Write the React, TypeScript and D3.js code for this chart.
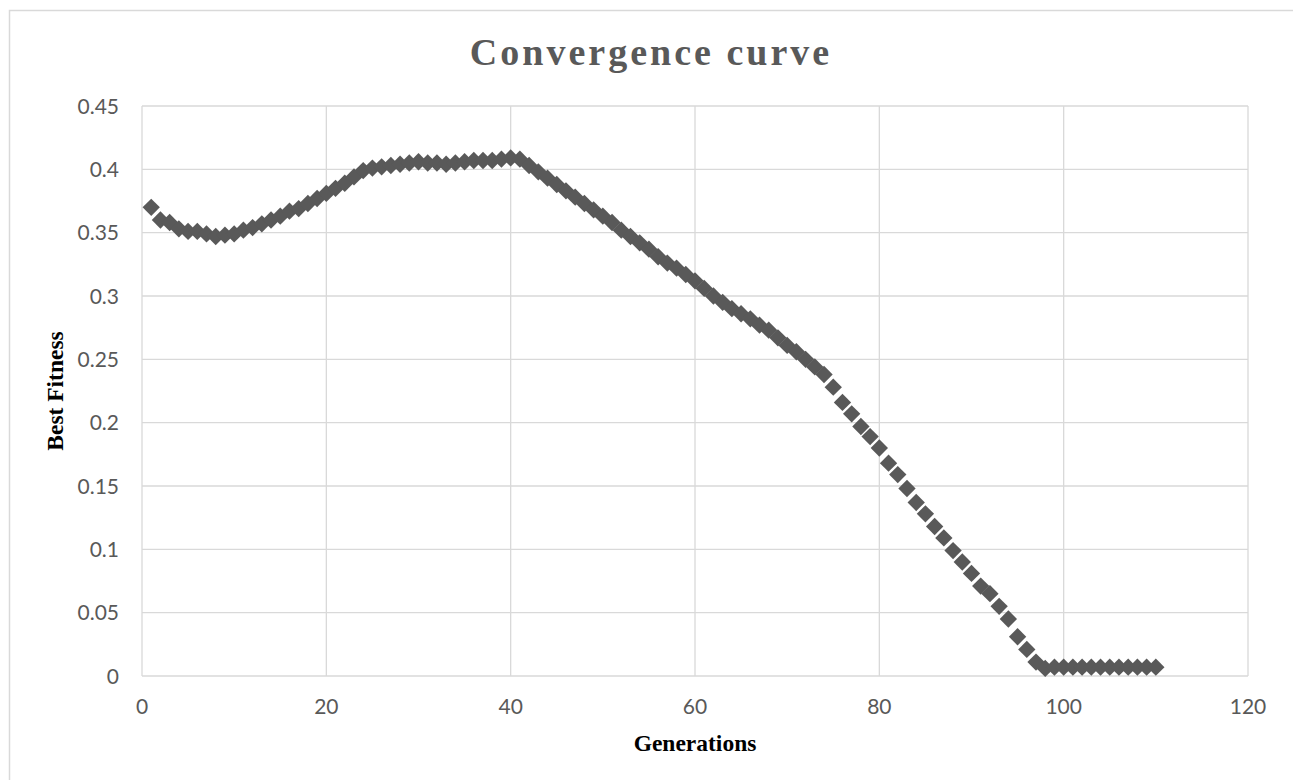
import * as d3 from "d3";
import React, { useEffect, useRef } from "react";

const W = 1293;
const H = 780;

// generation numbers 1..110
const generations = d3.range(1, 111);

// best fitness per generation
const bestFitness = [
  0.370, 0.360, 0.358, 0.353, 0.351, 0.351, 0.349, 0.347, 0.348, 0.349,
  0.352, 0.354, 0.357, 0.360, 0.363, 0.367, 0.369, 0.373, 0.377, 0.381,
  0.385, 0.389, 0.394, 0.399, 0.401, 0.402, 0.403, 0.404, 0.405, 0.406,
  0.405, 0.405, 0.404, 0.405, 0.406, 0.407, 0.407, 0.407, 0.408, 0.409,
  0.408, 0.403, 0.398, 0.393, 0.388, 0.383, 0.378, 0.373, 0.368, 0.363,
  0.358, 0.352, 0.347, 0.342, 0.337, 0.331, 0.326, 0.322, 0.317, 0.312,
  0.306, 0.300, 0.295, 0.290, 0.286, 0.282, 0.277, 0.273, 0.267, 0.261,
  0.256, 0.250, 0.244, 0.238, 0.228, 0.216, 0.207, 0.197, 0.189, 0.180,
  0.168, 0.159, 0.148, 0.137, 0.128, 0.118, 0.109, 0.099, 0.090, 0.081,
  0.071, 0.065, 0.055, 0.045, 0.031, 0.021, 0.011, 0.006, 0.007, 0.007,
  0.007, 0.007, 0.007, 0.007, 0.007, 0.007, 0.007, 0.007, 0.007, 0.007,
];

const xTicks = [0, 20, 40, 60, 80, 100, 120];
const yTicks = [0, 0.05, 0.1, 0.15, 0.2, 0.25, 0.3, 0.35, 0.4, 0.45];

function drawChart(el: SVGSVGElement) {
  const svg = d3.select(el);
  svg.selectAll("*").remove();

  const margin = { top: 106, right: 45, bottom: 104, left: 142 };
  const width = W - margin.left - margin.right;
  const height = H - margin.top - margin.bottom;

  const grid = "#d9d9d9";
  const ink = "#595959";
  const serif = "'Liberation Serif', 'Times New Roman', serif";

  // chart area frame
  svg
    .append("rect")
    .attr("x", 9.5)
    .attr("y", 10.5)
    .attr("width", W)
    .attr("height", H)
    .attr("fill", "#fff")
    .attr("stroke", grid)
    .attr("stroke-width", 1.5);

  const x = d3.scaleLinear().domain([0, 120]).range([0, width]);
  const y = d3.scaleLinear().domain([0, 0.45]).range([height, 0]);

  const g = svg.append("g").attr("transform", `translate(${margin.left},${margin.top})`);

  // gridlines
  g.append("g")
    .selectAll("line")
    .data(yTicks)
    .join("line")
    .attr("x1", 0)
    .attr("x2", width)
    .attr("y1", d => y(d))
    .attr("y2", d => y(d))
    .attr("stroke", grid)
    .attr("stroke-width", 1.3);
  g.append("g")
    .selectAll("line")
    .data(xTicks)
    .join("line")
    .attr("x1", d => x(d))
    .attr("x2", d => x(d))
    .attr("y1", 0)
    .attr("y2", height)
    .attr("stroke", grid)
    .attr("stroke-width", 1.3);

  // tick labels
  const tickFont = "Lato, 'Open Sans', sans-serif";
  g.append("g")
    .selectAll("text")
    .data(yTicks)
    .join("text")
    .attr("x", -23)
    .attr("y", d => y(d))
    .attr("dy", "0.36em")
    .attr("text-anchor", "end")
    .attr("fill", ink)
    .style("font-family", tickFont)
    .style("font-size", "21px")
    .text(d => String(+d.toFixed(2)));
  g.append("g")
    .selectAll("text")
    .data(xTicks)
    .join("text")
    .attr("x", d => x(d))
    .attr("y", height + 38)
    .attr("text-anchor", "middle")
    .attr("fill", ink)
    .style("font-family", tickFont)
    .style("font-size", "21px")
    .text(d => d);

  // markers (square turned 45° = Excel diamond)
  const diamond = d3.symbol().type(d3.symbolSquare).size(150);
  g.append("g")
    .selectAll("path")
    .data(generations)
    .join("path")
    .attr("d", diamond)
    .attr("transform", (d, i) => `translate(${x(d)},${y(bestFitness[i])}) rotate(45)`)
    .attr("fill", ink);

  // titles
  svg
    .append("text")
    .attr("x", 651)
    .attr("y", 65)
    .attr("text-anchor", "middle")
    .attr("fill", ink)
    .style("font-family", serif)
    .style("font-weight", "bold")
    .style("font-size", "38px")
    .style("letter-spacing", "3px")
    .text("Convergence curve");

  svg
    .append("text")
    .attr("x", margin.left + width / 2)
    .attr("y", 751)
    .attr("text-anchor", "middle")
    .attr("fill", "#000")
    .style("font-family", serif)
    .style("font-weight", "bold")
    .style("font-size", "23.5px")
    .text("Generations");

  svg
    .append("text")
    .attr("transform", `translate(63,${margin.top + height / 2}) rotate(-90)`)
    .attr("text-anchor", "middle")
    .attr("fill", "#000")
    .style("font-family", serif)
    .style("font-weight", "bold")
    .style("font-size", "23.5px")
    .text("Best Fitness");
}

export default function App() {
  const ref = useRef<SVGSVGElement>(null);

  useEffect(() => {
    if (ref.current) drawChart(ref.current);
  }, []);

  return (
    <svg
      ref={ref}
      width={W}
      height={H}
      style={{ position: "absolute", left: 0, top: 0, background: "#fff" }}
    />
  );
}
